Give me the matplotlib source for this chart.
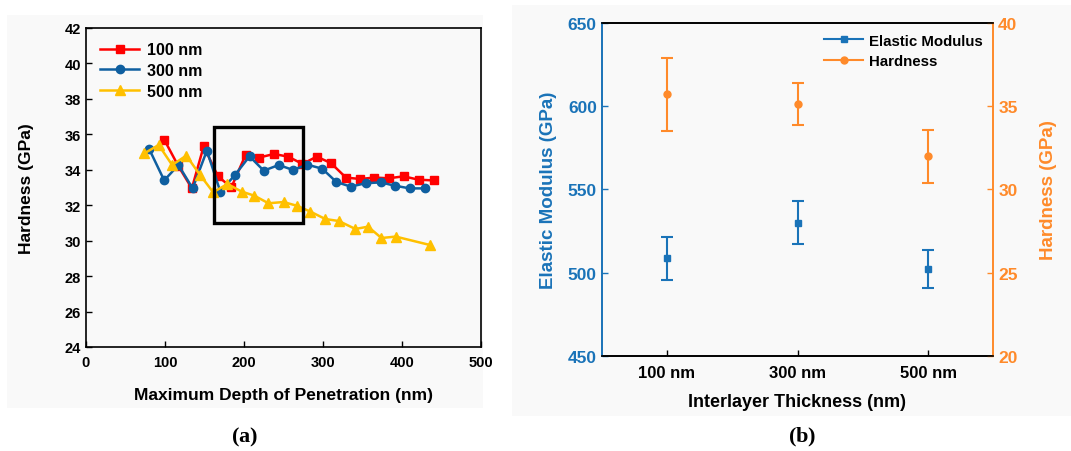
import matplotlib
matplotlib.use('Agg')
import matplotlib.pyplot as plt
from matplotlib.patches import Rectangle
import numpy as np

plt.rcParams['font.family'] = ['Liberation Sans', 'DejaVu Sans']
plt.rcParams['font.weight'] = 'bold'
plt.rcParams['mathtext.fontset'] = 'custom'
plt.rcParams['mathtext.rm'] = 'Liberation Serif'
plt.rcParams['mathtext.bf'] = 'Liberation Serif:bold'

# ── (a) hardness vs. penetration depth ──
x_100 = [99, 117, 134, 149, 167, 184, 202, 219, 238, 256, 274, 292, 310, 329, 347, 365, 383, 402, 421, 440]
h_100 = [35.70, 34.20, 32.95, 35.33, 33.63, 33.01, 34.84, 34.69, 34.89, 34.74, 34.33, 34.74, 34.38,
         33.56, 33.48, 33.56, 33.52, 33.63, 33.44, 33.40]

x_300 = [80, 99, 117, 135, 153, 170, 189, 207, 225, 244, 262, 280, 299, 317, 335, 354, 373, 391, 410, 429]
h_300 = [35.17, 33.40, 34.27, 32.95, 35.08, 32.77, 33.73, 34.76, 33.95, 34.27, 33.99, 34.29, 34.06,
         33.31, 33.05, 33.24, 33.29, 33.10, 32.95, 32.95]

x_500 = [74, 92, 109, 127, 144, 161, 179, 197, 213, 231, 250, 267, 284, 303, 320, 341, 357, 374, 392, 435]
h_500 = [34.93, 35.40, 34.27, 34.80, 33.73, 32.73, 33.20, 32.77, 32.54, 32.11, 32.18, 31.97, 31.64,
         31.22, 31.11, 30.66, 30.79, 30.15, 30.23, 29.76]

box_x = [162, 275]
box_y = [31.0, 36.4]

# ── (b) modulus and hardness vs. interlayer thickness ──
thickness = ['100 nm', '300 nm', '500 nm']
modulus = [508.5, 529.9, 502.3]
modulus_err = [13.0, 13.0, 11.5]
hardness = [35.71, 35.15, 31.98]
hardness_err = [2.2, 1.26, 1.58]

W, H = 1071, 452
fig = plt.figure(figsize=(W / 100, H / 100), dpi=100, facecolor='white')

# light grey panel backgrounds
fig.patches.append(Rectangle((7 / W, 1 - 409 / H), 476 / W, 393 / H, transform=fig.transFigure,
                             facecolor='#f9f9f9', edgecolor='none', zorder=-10))
fig.patches.append(Rectangle((512 / W, 1 - 417 / H), 559 / W, 411 / H, transform=fig.transFigure,
                             facecolor='#f9f9f9', edgecolor='none', zorder=-10))

# ---------- panel (a) ----------
ax1 = fig.add_axes([86 / W, 1 - 348 / H, 395 / W, 319 / H])
ax1.set_facecolor('none')
ax1.plot(x_100, h_100, '-s', color='#ff0000', lw=1.8, ms=5.5, label='100 nm')
ax1.plot(x_300, h_300, '-o', color='#0f5fa0', lw=1.8, ms=6, label='300 nm')
ax1.plot(x_500, h_500, '-^', color='#ffc000', lw=1.8, ms=6.5, label='500 nm')
ax1.add_patch(Rectangle((box_x[0], box_y[0]), box_x[1] - box_x[0], box_y[1] - box_y[0],
                        fill=False, edgecolor='black', lw=2.4, zorder=5))
ax1.set_xlim(0, 500)
ax1.set_ylim(24, 42)
ax1.set_xticks(np.arange(0, 501, 100))
ax1.set_yticks(np.arange(24, 43, 2))
ax1.tick_params(direction='in', labelsize=10.5, length=4, width=1)
ax1.tick_params(axis='x', pad=6)
ax1.set_xlabel('Maximum Depth of Penetration (nm)', fontsize=12.5, fontweight='bold', labelpad=13)
ax1.set_ylabel('Hardness (GPa)', fontsize=12.5, fontweight='bold', labelpad=22)
for sp in ax1.spines.values():
    sp.set_linewidth(1.2)
ax1.legend(loc='upper left', frameon=False, fontsize=11.5, handlelength=2.4,
           borderaxespad=0.5, labelspacing=0.35, handletextpad=0.5)

# ---------- panel (b) ----------
c_mod = '#1a73b8'
c_hard = '#ff8a2a'
pos = np.arange(len(thickness))

ax2 = fig.add_axes([601.7 / W, 1 - 356.7 / H, 391.6 / W, 332.7 / H])
ax2.set_facecolor('none')
ax3 = ax2.twinx()

ax2.errorbar(pos, modulus, yerr=modulus_err, fmt='s', color=c_mod, ms=5, capsize=4,
             elinewidth=1.5, capthick=1.5)
ax3.errorbar(pos, hardness, yerr=hardness_err, fmt='o', color=c_hard, ms=5, capsize=4,
             elinewidth=1.5, capthick=1.5)

ax2.set_xlim(-0.5, 2.5)
ax2.set_ylim(450, 650)
ax3.set_ylim(20, 40)
ax2.set_xticks(pos)
ax2.set_xticklabels(thickness)
ax2.set_yticks(np.arange(450, 651, 50))
ax3.set_yticks(np.arange(20, 41, 5))
ax2.tick_params(axis='x', direction='in', labelsize=12, length=4, width=1, pad=7)
ax2.tick_params(axis='y', direction='in', labelsize=12.5, length=4, width=1,
                colors=c_mod, labelcolor=c_mod)
ax3.tick_params(axis='y', direction='in', labelsize=12.5, length=4, width=1,
                colors=c_hard, labelcolor=c_hard)

ax2.set_xlabel('Interlayer Thickness (nm)', fontsize=13, fontweight='bold', labelpad=9)
ax2.set_ylabel('Elastic Modulus (GPa)', fontsize=13.5, fontweight='bold', color=c_mod, labelpad=8)
ax3.set_ylabel('Hardness (GPa)', fontsize=13.5, fontweight='bold', color=c_hard, labelpad=16)

for a in (ax2, ax3):
    a.spines['top'].set_color('black')
    a.spines['bottom'].set_color('black')
    a.spines['left'].set_color(c_mod)
    a.spines['right'].set_color(c_hard)
    for sp in a.spines.values():
        sp.set_linewidth(1.2)

for a in (ax1, ax2, ax3):
    for lab in a.get_xticklabels() + a.get_yticklabels():
        lab.set_fontweight('bold')

h1 = plt.Line2D([], [], color=c_mod, marker='s', ms=5, lw=1.5)
h2 = plt.Line2D([], [], color=c_hard, marker='o', ms=5, lw=1.5)
ax3.legend([h1, h2], ['Elastic Modulus', 'Hardness'], loc='upper right', frameon=False,
           fontsize=10.8, handlelength=2.6, borderaxespad=0.3, labelspacing=0.45, handletextpad=0.4)

# captions
fig.text(245 / W, 1 - 437 / H, r'$(\mathbf{a})$', ha='center', va='center', fontsize=16)
fig.text(802 / W, 1 - 437 / H, r'$(\mathbf{b})$', ha='center', va='center', fontsize=16)

plt.savefig('out.png', dpi=100, facecolor=fig.get_facecolor())
plt.close()
